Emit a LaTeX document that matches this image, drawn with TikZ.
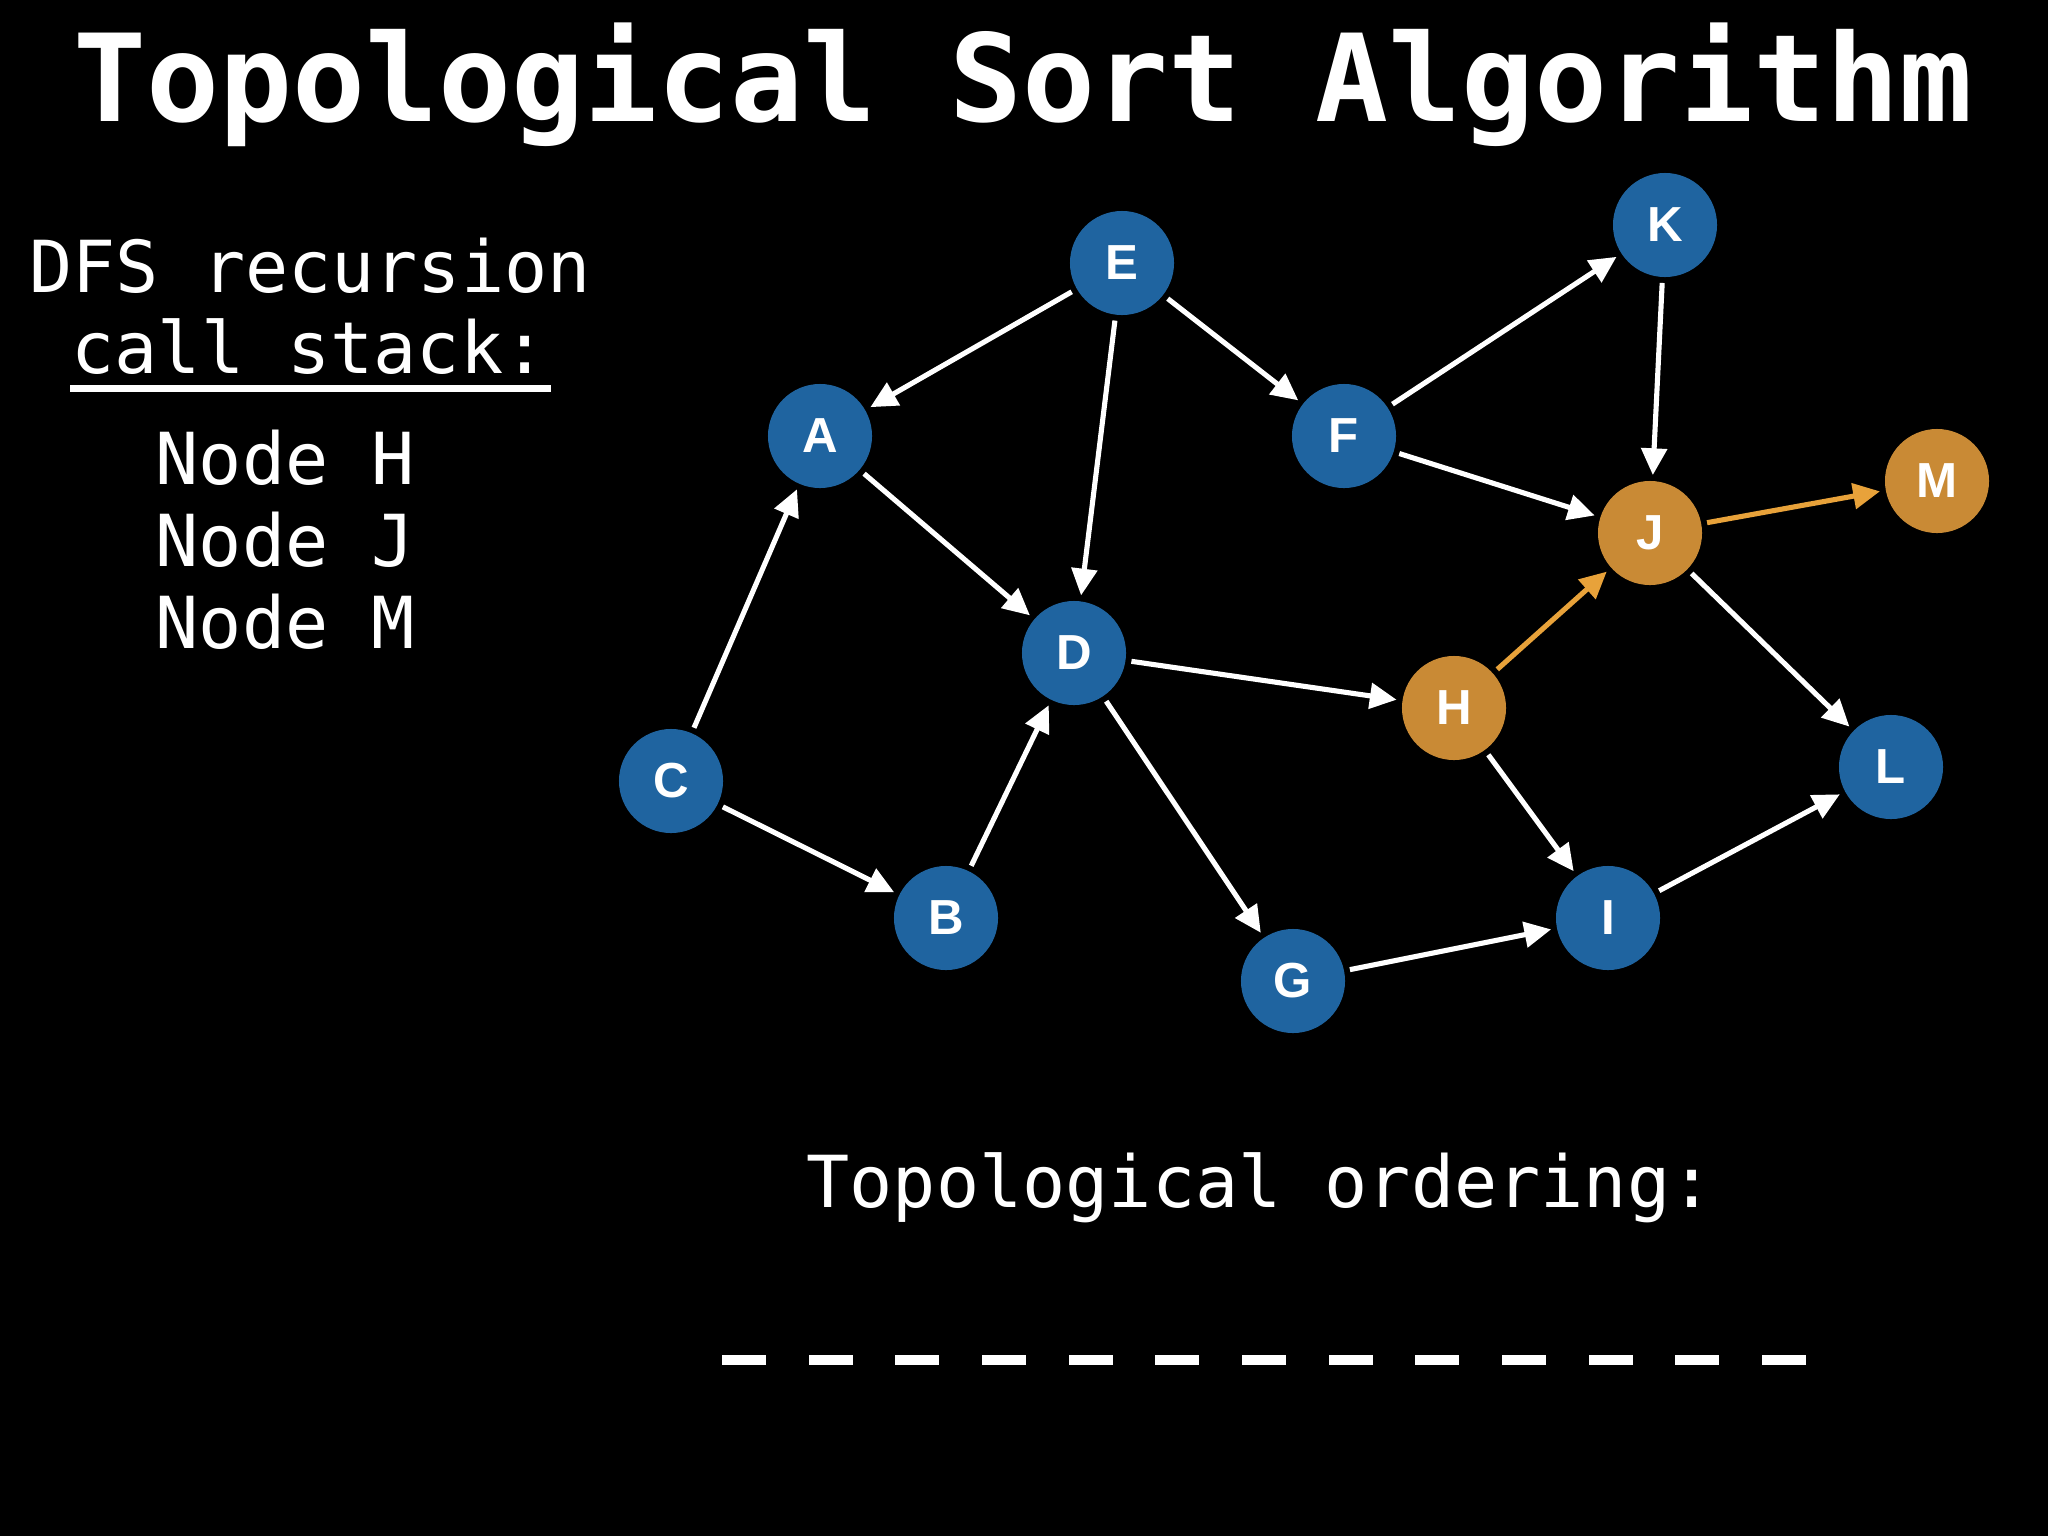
\documentclass[tikz,border=0pt]{standalone}
\usepackage{fontspec}
\setmonofont{DejaVu Sans Mono}
\newfontfamily\lblfont{Liberation Sans}
\usetikzlibrary{arrows.meta}
\definecolor{nblue}{HTML}{1F64A0}
\definecolor{norange}{HTML}{C98A35}
\definecolor{aorange}{HTML}{E8A23A}
\begin{document}
\begin{tikzpicture}[x=0.01cm,y=-0.01cm,
  vtx/.style={circle, minimum size=1.04cm, inner sep=0pt, text=white,
    font=\lblfont\bfseries\fontsize{14}{14}\selectfont},
  bluev/.style={vtx, fill=nblue},
  orangev/.style={vtx, fill=norange},
  edge/.style={draw=white, line width=1.45pt,
    -{Triangle[length=7.6pt,width=7.2pt]}, shorten <=1.5pt, shorten >=1.5pt},
  oedge/.style={edge, draw=aorange, fill=aorange},
  txt/.style={text=white, inner sep=0pt, font=\ttfamily\fontsize{20.4}{24}\selectfont},
  ttl/.style={text=white, inner sep=0pt, font=\ttfamily\bfseries\fontsize{34.5}{40}\selectfont}
]
\fill[black] (0,0) rectangle (2048,1536);
\useasboundingbox (0,0) rectangle (2048,1536);

% title
\node[ttl, anchor=base] (title) at (1023,121) {Topological Sort Algorithm};

% call stack panel
\node[txt, anchor=base] (dfs1) at (310,292) {DFS recursion};
\node[txt, anchor=base] (dfs2) at (309,373) {call stack:};
\fill[white] (70,385) rectangle (551,392);
\node[txt, anchor=base west] (s1) at (155,484) {Node H};
\node[txt, anchor=base west] (s2) at (155,566) {Node J};
\node[txt, anchor=base west] (s3) at (155,648) {Node M};

% ordering
\node[txt, anchor=base] (ord) at (1260,1207) {Topological ordering:};
\foreach \i in {0,...,12}
  \fill[white] ({722+86.67*\i},1355) rectangle ({766+86.67*\i},1365);

% vertices
\node[bluev] (E) at (1122,263) {E};
\node[bluev] (K) at (1665,225) {K};
\node[bluev] (A) at (820,436) {A};
\node[bluev] (F) at (1344,436) {F};
\node[orangev] (M) at (1937,481) {M};
\node[orangev] (J) at (1650,533) {J};
\node[bluev] (D) at (1074,653) {D};
\node[orangev] (H) at (1454,708) {H};
\node[bluev] (C) at (671,781) {C};
\node[bluev] (L) at (1891,767) {L};
\node[bluev] (B) at (946,918) {B};
\node[bluev] (I) at (1608,918) {I};
\node[bluev] (G) at (1293,981) {G};

% edges
\draw[edge] (E) -- (A);
\draw[edge] (E) -- (D);
\draw[edge] (E) -- (F);
\draw[edge] (F) -- (K);
\draw[edge] (F) -- (J);
\draw[edge] (K) -- (J);
\draw[oedge] (J) -- (M);
\draw[edge] (J) -- (L);
\draw[edge] (A) -- (D);
\draw[edge] (C) -- (A);
\draw[edge] (C) -- (B);
\draw[edge] (B) -- (D);
\draw[edge] (D) -- (H);
\draw[edge] (D) -- (G);
\draw[oedge] (H) -- (J);
\draw[edge] (H) -- (I);
\draw[edge] (G) -- (I);
\draw[edge] (I) -- (L);
\end{tikzpicture}
\end{document}
